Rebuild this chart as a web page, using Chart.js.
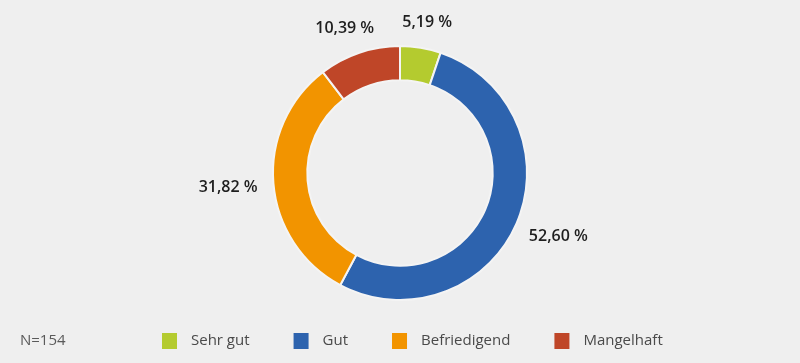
<!DOCTYPE html>
<html>
<head>
<meta charset="utf-8">
<script src="https://cdn.jsdelivr.net/npm/chart.js@4/dist/chart.umd.min.js"></script>
<style>
  html, body { margin: 0; padding: 0; background: #EFEFEF; }
  #wrap { width: 800px; height: 363px; position: relative; }
</style>
</head>
<body>
<div id="wrap"><canvas id="c" width="800" height="363"></canvas></div>
<script>
const categories = ["Sehr gut", "Gut", "Befriedigend", "Mangelhaft"];
const values = [5.19, 52.60, 31.82, 10.39];
const colors = ["#B4CB2F", "#2D63AE", "#F29400", "#BF4628"];
const sampleNote = "N=154";

function fmt(v) {
  return v.toFixed(2).replace(".", ",") + " %";
}

const labelPlugin = {
  id: "outLabels",
  afterDatasetsDraw(chart) {
    const ctx = chart.ctx;
    const meta = chart.getDatasetMeta(0);
    ctx.save();
    ctx.font = "600 16px 'Open Sans'";
    ctx.fillStyle = "#1E1E1E";
    ctx.textAlign = "center";
    ctx.textBaseline = "middle";
    meta.data.forEach((arc, i) => {
      const p = arc.getProps(["x", "y", "startAngle", "endAngle", "outerRadius"], true);
      const mid = (p.startAngle + p.endAngle) / 2;
      const dx = Math.cos(mid), dy = Math.sin(mid);
      const txt = fmt(values[i]);
      const w = ctx.measureText(txt).width;
      const r = p.outerRadius + 16;
      const x = p.x + r * dx + dx * w / 2;
      const y = p.y + r * dy + dy * 12 + 2;
      ctx.fillText(txt, x, y);
    });
    ctx.restore();
  }
};

const legendPlugin = {
  id: "customLegend",
  afterDraw(chart) {
    const ctx = chart.ctx;
    ctx.save();
    ctx.font = "15px 'Open Sans'";
    ctx.textBaseline = "middle";
    ctx.textAlign = "left";
    const yMid = 341;
    ctx.fillStyle = "#5A5A5A";
    ctx.fillText(sampleNote, 20, yMid);
    let x = 162;
    categories.forEach((c, i) => {
      ctx.fillStyle = colors[i];
      ctx.fillRect(x, yMid - 8, 15, 16);
      x += 15 + 14;
      ctx.fillStyle = "#4A4A4A";
      ctx.fillText(c, x, yMid);
      x += ctx.measureText(c).width + 44;
    });
    ctx.restore();
  }
};

new Chart(document.getElementById("c"), {
  type: "doughnut",
  data: {
    labels: categories,
    datasets: [{
      data: values,
      backgroundColor: colors,
      borderColor: "#F4F4F4",
      borderWidth: 2,
      hoverOffset: 0
    }]
  },
  options: {
    responsive: false,
    animation: false,
    cutout: "73%",
    layout: { padding: { top: 45, bottom: 62, left: 0, right: 0 } },
    plugins: {
      legend: { display: false },
      tooltip: { enabled: false }
    }
  },
  plugins: [labelPlugin, legendPlugin]
});
</script>
</body>
</html>
